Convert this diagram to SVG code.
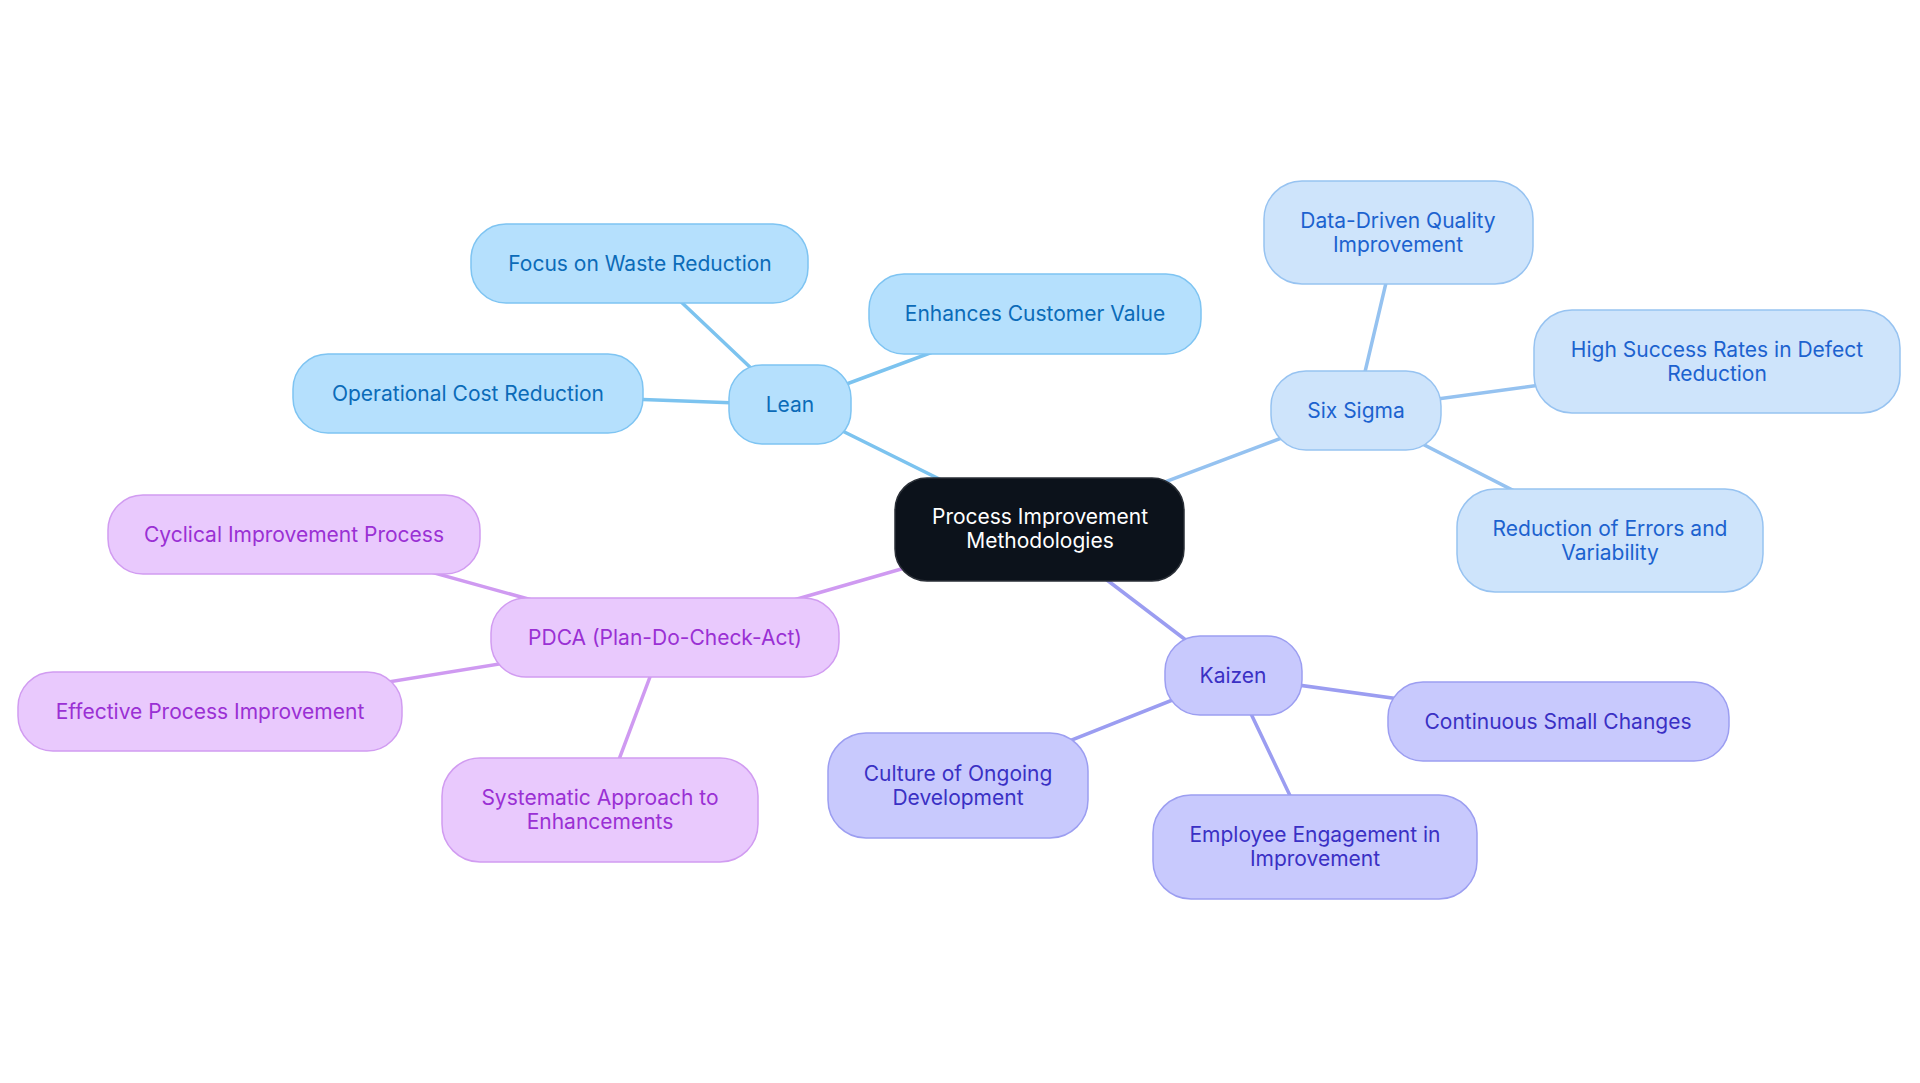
<svg xmlns="http://www.w3.org/2000/svg" width="1920" height="1083" viewBox="0 0 1920 1083">
<style>
text{font-family:Inter,"Noto Sans","Liberation Sans",sans-serif;font-size:21px;text-anchor:middle;dominant-baseline:central}
.e{fill:none;stroke-width:3.5;stroke-linecap:round}
.eL{stroke:#7cc3ef}.eS{stroke:#95c2f0}.eK{stroke:#9b9df1}.eP{stroke:#cf9af1}
.nL rect{fill:#b5e0fd;stroke:#7ec4f2;stroke-width:1.5}.nL text{fill:#0b6bb8}
.nS rect{fill:#cee4fb;stroke:#97c3f1;stroke-width:1.5}.nS text{fill:#1c62cf}
.nK rect{fill:#c8c9fd;stroke:#9c9ef1;stroke-width:1.5}.nK text{fill:#3a30c4}
.nP rect{fill:#e9c9fd;stroke:#d19cf1;stroke-width:1.5}.nP text{fill:#9a30d4}
.nC rect{fill:#0c121b;stroke:#2a2f37;stroke-width:1.5}.nC text{fill:#ffffff}
</style>
<rect width="1920" height="1083" fill="#ffffff"/>
<g id="connectors">
<line class="e eL" x1="1040" y1="529" x2="790" y2="405"/>
<line class="e eL" x1="790" y1="405" x2="640" y2="263"/>
<line class="e eL" x1="790" y1="405" x2="1035" y2="314"/>
<line class="e eL" x1="790" y1="405" x2="468" y2="393" stroke-width="4.5"/>
<line class="e eS" x1="1040" y1="529" x2="1356" y2="410"/>
<line class="e eS" x1="1356" y1="410" x2="1398" y2="232"/>
<line class="e eS" x1="1356" y1="410" x2="1717" y2="361" stroke-width="4.5"/>
<line class="e eS" x1="1356" y1="410" x2="1610" y2="540"/>
<line class="e eK" x1="1040" y1="529" x2="1233" y2="676"/>
<line class="e eK" x1="1233" y1="676" x2="1558" y2="721" stroke-width="4.5"/>
<line class="e eK" x1="1233" y1="676" x2="958" y2="785"/>
<line class="e eK" x1="1233" y1="676" x2="1314" y2="846"/>
<line class="e eP" x1="1040" y1="529" x2="665" y2="637"/>
<line class="e eP" x1="665" y1="637" x2="294" y2="534"/>
<line class="e eP" x1="665" y1="637" x2="210" y2="711" stroke-width="4.5"/>
<line class="e eP" x1="665" y1="637" x2="600" y2="810"/>
</g>
<g id="central" class="nC"><rect x="895" y="478" width="289" height="103" rx="32"/><text x="1040" y="516">Process Improvement</text><text x="1040" y="540">Methodologies</text></g>
<g id="lean" class="nL"><rect x="729" y="365" width="122" height="79" rx="33"/><text x="790" y="404">Lean</text></g>
<g id="lean-waste" class="nL"><rect x="471" y="224" width="337" height="79" rx="35"/><text x="640" y="263">Focus on Waste Reduction</text></g>
<g id="lean-value" class="nL"><rect x="869" y="274" width="332" height="80" rx="35"/><text x="1035" y="313">Enhances Customer Value</text></g>
<g id="lean-cost" class="nL"><rect x="293" y="354" width="350" height="79" rx="35"/><text x="468" y="393">Operational Cost Reduction</text></g>
<g id="sixsigma" class="nS"><rect x="1271" y="371" width="170" height="79" rx="35"/><text x="1356" y="410">Six Sigma</text></g>
<g id="ss-data" class="nS"><rect x="1264" y="181" width="269" height="103" rx="38"/><text x="1398" y="220">Data-Driven Quality</text><text x="1398" y="244">Improvement</text></g>
<g id="ss-success" class="nS"><rect x="1534" y="310" width="366" height="103" rx="38"/><text x="1717" y="349">High Success Rates in Defect</text><text x="1717" y="373">Reduction</text></g>
<g id="ss-errors" class="nS"><rect x="1457" y="489" width="306" height="103" rx="38"/><text x="1610" y="528">Reduction of Errors and</text><text x="1610" y="552">Variability</text></g>
<g id="kaizen" class="nK"><rect x="1165" y="636" width="137" height="79" rx="35"/><text x="1233" y="675">Kaizen</text></g>
<g id="kz-small" class="nK"><rect x="1388" y="682" width="341" height="79" rx="35"/><text x="1558" y="721">Continuous Small Changes</text></g>
<g id="kz-culture" class="nK"><rect x="828" y="733" width="260" height="105" rx="38"/><text x="958" y="773">Culture of Ongoing</text><text x="958" y="797">Development</text></g>
<g id="kz-employee" class="nK"><rect x="1153" y="795" width="324" height="104" rx="38"/><text x="1315" y="834">Employee Engagement in</text><text x="1315" y="858">Improvement</text></g>
<g id="pdca" class="nP"><rect x="491" y="598" width="348" height="79" rx="35"/><text x="665" y="637">PDCA (Plan-Do-Check-Act)</text></g>
<g id="pd-cyclical" class="nP"><rect x="108" y="495" width="372" height="79" rx="35"/><text x="294" y="534">Cyclical Improvement Process</text></g>
<g id="pd-effective" class="nP"><rect x="18" y="672" width="384" height="79" rx="35"/><text x="210" y="711">Effective Process Improvement</text></g>
<g id="pd-systematic" class="nP"><rect x="442" y="758" width="316" height="104" rx="38"/><text x="600" y="797">Systematic Approach to</text><text x="600" y="821">Enhancements</text></g>
</svg>
